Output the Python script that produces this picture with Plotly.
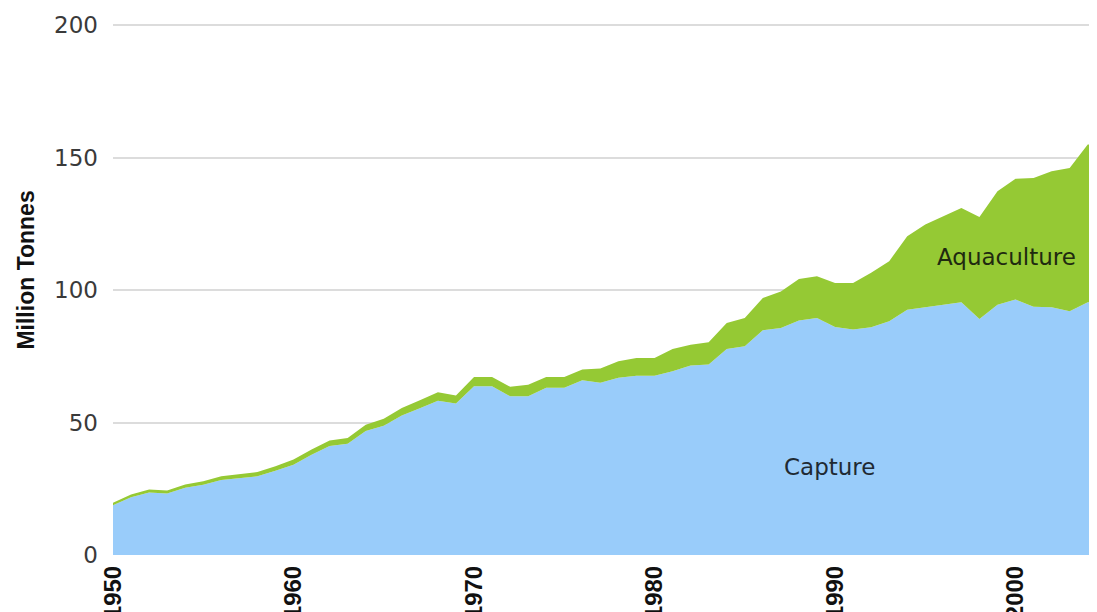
import plotly.graph_objects as go

years = list(range(1950, 2006))

total = [19.7, 22.8, 24.7, 24.3, 26.6, 27.8, 29.7, 30.4, 31.3, 33.5,
         36.0, 39.8, 43.2, 44.2, 49.2, 51.4, 55.5, 58.4, 61.4, 60.2,
         67.2, 67.2, 63.5, 64.3, 67.2, 67.2, 70.0, 70.4, 73.1, 74.4,
         74.4, 77.8, 79.4, 80.3, 87.6, 89.5, 97.0, 99.5, 104.2, 105.2,
         102.7, 102.7, 106.5, 110.9, 120.3, 124.7, 127.8, 131.0, 127.6, 137.3,
         142.0, 142.3, 144.8, 146.1, 154.9, 156.0]

aquaculture = [0.9, 1.0, 1.1, 1.1, 1.2, 1.3, 1.4, 1.5, 1.6, 1.7,
               1.9, 2.0, 2.1, 2.2, 2.4, 2.6, 2.8, 3.0, 3.2, 3.0,
               3.5, 3.5, 3.6, 4.4, 4.1, 4.1, 4.0, 5.4, 6.2, 6.7,
               6.7, 8.4, 7.9, 8.4, 9.8, 10.7, 12.2, 13.8, 15.7, 15.7,
               16.6, 17.6, 20.5, 22.7, 27.7, 31.2, 33.4, 35.6, 38.5, 42.8,
               45.6, 48.6, 51.3, 54.1, 59.5, 60.5]

capture = [round(t - a, 1) for t, a in zip(total, aquaculture)]

x_ticks = [1950, 1960, 1970, 1980, 1990, 2000]
y_ticks = [0, 50, 100, 150, 200]

fig = go.Figure()
fig.add_trace(go.Scatter(
    x=years, y=capture, name="Capture", stackgroup="one",
    mode="lines", line=dict(width=0, color="#99CCFA"),
    fillcolor="#99CCFA", hoverinfo="x+y"))
fig.add_trace(go.Scatter(
    x=years, y=aquaculture, name="Aquaculture", stackgroup="one",
    mode="lines", line=dict(width=0, color="#95C934"),
    fillcolor="#95C934", hoverinfo="x+y"))

fig.update_layout(
    width=1081, height=612,
    margin=dict(l=105, r=0, t=15.4, b=64.5, autoexpand=False),
    paper_bgcolor="white", plot_bgcolor="white",
    showlegend=False,
    xaxis=dict(
        range=[1950, 2004.07], tickvals=x_ticks,
        ticktext=[str(v) for v in x_ticks],
        tickangle=-90, showgrid=False, zeroline=False, showline=False,
        ticks="", ticklabelstandoff=5, automargin=False,
        tickfont=dict(family="Liberation Sans, Arial", size=24,
                      color="#111", weight="bold"),
    ),
    yaxis=dict(
        range=[0, 200.8], tickvals=y_ticks, automargin=False,
        showgrid=True, gridcolor="#dcdcdc", gridwidth=1.5,
        zeroline=False, showline=False, ticks="", ticklabelstandoff=14,
        tickfont=dict(family="DejaVu Sans", size=23, color="#3a3a3a"),
    ),
    annotations=[
        dict(text="Capture", x=1989.7, y=33.4, xref="x", yref="y",
             showarrow=False, font=dict(family="DejaVu Sans", size=23, color="#1f2a33")),
        dict(text="Aquaculture", x=1999.5, y=112.6, xref="x", yref="y",
             showarrow=False, font=dict(family="DejaVu Sans", size=23, color="#1f2a10")),
        dict(text="Million Tonnes", x=-0.0891, y=0.5347, xref="paper", yref="paper",
             textangle=-90, showarrow=False, xanchor="center", yanchor="middle",
             font=dict(family="Liberation Sans, Arial", size=23,
                       color="#111", weight="bold")),
    ],
)

fig.write_html("out.html")
